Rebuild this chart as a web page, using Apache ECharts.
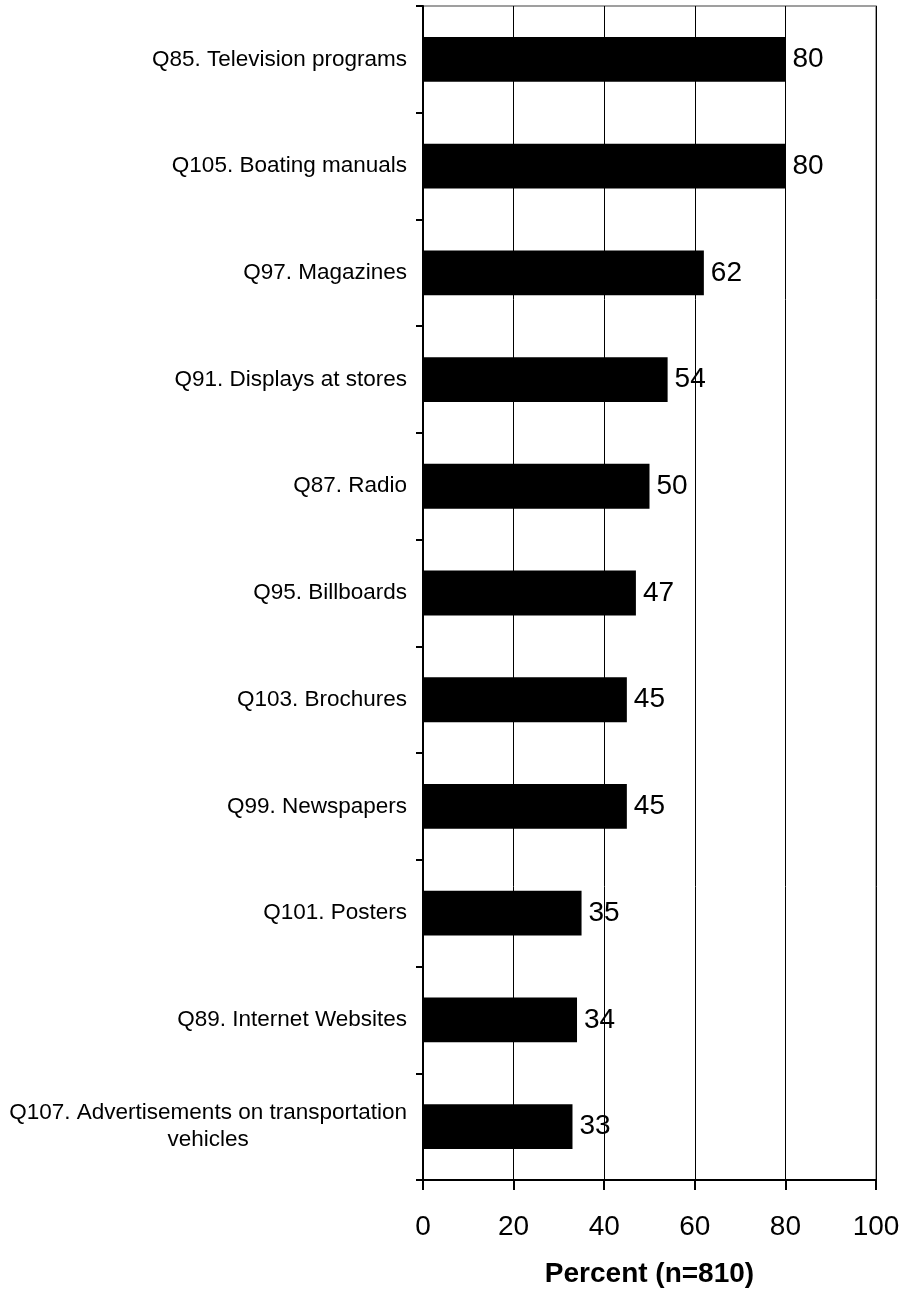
<!DOCTYPE html>
<html>
<head>
<meta charset="utf-8">
<script src="https://cdn.jsdelivr.net/npm/echarts@6/dist/echarts.min.js"></script>
<style>
  html, body { margin: 0; padding: 0; background: #fff; }
  #chart { width: 906px; height: 1293px; }
</style>
</head>
<body>
<div id="chart"></div>
<script>
// Media sources, listed top to bottom
const categories = [
  'Q85. Television programs',
  'Q105. Boating manuals',
  'Q97. Magazines',
  'Q91. Displays at stores',
  'Q87. Radio',
  'Q95. Billboards',
  'Q103. Brochures',
  'Q99. Newspapers',
  'Q101. Posters',
  'Q89. Internet Websites',
  'Q107. Advertisements on transportation\nvehicles'
];
const percents = [80, 80, 62, 54, 50, 47, 45, 45, 35, 34, 33];
const xTicks = [0, 20, 40, 60, 80, 100];
const xAxisTitle = 'Percent (n=810)';

const FONT = '"Liberation Sans", Arial, Helvetica, sans-serif';

const chart = echarts.init(document.getElementById('chart'), null, { renderer: 'canvas' });

chart.setOption({
  animation: false,
  backgroundColor: '#ffffff',
  grid: {
    left: 423, right: 30, top: 6, bottom: 113,
    outerBoundsMode: 'none',
    containLabel: false,
    show: true, borderColor: '#808080', borderWidth: 1.5, backgroundColor: 'transparent'
  },
  xAxis: {
    type: 'value',
    min: xTicks[0], max: xTicks[xTicks.length - 1], interval: xTicks[1] - xTicks[0],
    name: xAxisTitle,
    nameLocation: 'middle',
    nameGap: 80,
    nameTextStyle: { fontFamily: FONT, fontSize: 28, fontWeight: 'bold', color: '#000' },
    axisLine: { show: true, lineStyle: { color: '#000', width: 2 } },
    axisTick: { show: true, inside: false, length: 10, lineStyle: { color: '#000', width: 2 } },
    axisLabel: { fontFamily: FONT, fontSize: 28, color: '#000', margin: 33 },
    splitLine: { show: true, lineStyle: { color: '#000', width: 1 } }
  },
  yAxis: {
    type: 'category',
    data: categories,
    inverse: true,
    axisLine: { show: true, lineStyle: { color: '#000', width: 2 } },
    axisTick: { show: true, inside: false, length: 7, interval: 0, lineStyle: { color: '#000', width: 2 } },
    axisLabel: {
      interval: 0,
      margin: 16,
      color: '#000',
      fontFamily: FONT,
      fontSize: 22.5,
      lineHeight: 27,
      formatter: function (v) {
        return v.split('\n').map(function (s) { return '{c|' + s + '}'; }).join('\n');
      },
      rich: { c: { align: 'center', fontFamily: FONT, fontSize: 22.5, lineHeight: 27, color: '#000' } }
    },
    splitLine: { show: false }
  },
  series: [{
    type: 'bar',
    data: percents,
    barWidth: '42%',
    itemStyle: { color: '#000' },
    label: {
      show: true,
      position: 'right',
      distance: 7,
      fontFamily: FONT,
      fontSize: 28,
      color: '#000'
    }
  }]
});
</script>
</body>
</html>
